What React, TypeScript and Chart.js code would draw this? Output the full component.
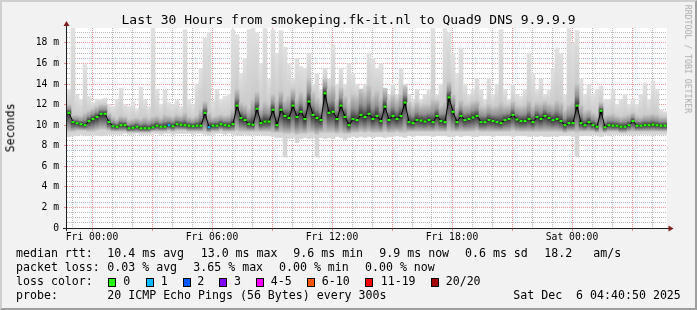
import React, { useEffect, useRef } from 'react';
import { Chart, registerables } from 'chart.js';

Chart.register(...registerables);

const FONT = '"DejaVu Sans Mono", "Liberation Mono", monospace';

// 150 buckets of 12 minutes, Thu 22:45 -> Sat 04:45 (values in ms)
const medianRtt = [
  11.2, 10.3, 10.2, 10.1, 10.0, 10.4, 10.6, 10.8, 11.1, 11.1,
  10.3, 9.9, 9.85, 10.0, 10.0, 9.7, 9.75, 9.85, 9.7, 9.7,
  9.7, 9.8, 9.95, 9.85, 9.85, 10.0, 9.9, 10.1, 10.05, 10.0,
  9.95, 9.9, 9.95, 9.95, 11.2, 9.8, 9.95, 9.95, 10.1, 10.0,
  9.95, 10.1, 11.9, 10.7, 10.5, 10.1, 10.05, 11.6, 10.2, 10.35,
  10.35, 11.5, 10.0, 11.5, 10.9, 10.7, 11.9, 10.8, 11.3, 10.6,
  12.3, 11.0, 10.7, 10.5, 13.1, 11.2, 11.3, 10.6, 11.9, 10.8,
  10.0, 10.6, 10.5, 11.0, 10.8, 11.1, 10.6, 10.9, 10.4, 11.8,
  10.5, 10.9, 10.6, 10.9, 12.2, 10.3, 10.2, 10.5, 10.45, 10.35,
  10.5, 10.3, 10.9, 10.4, 10.3, 12.7, 11.3, 10.3, 10.9, 10.5,
  10.6, 10.75, 10.9, 10.3, 10.3, 10.5, 10.4, 10.3, 10.2, 10.5,
  10.6, 11.0, 10.55, 10.4, 10.4, 10.6, 10.3, 10.8, 10.6, 10.9,
  10.7, 10.5, 10.6, 10.4, 10.0, 10.2, 10.2, 11.9, 10.2, 10.0,
  10.3, 10.0, 9.85, 11.4, 9.8, 10.0, 9.95, 9.95, 9.85, 9.85,
  10.0, 10.4, 9.95, 9.95, 10.0, 10.0, 10.05, 10.0, 9.95, 9.95,
];

const smokeMax = [
  13.5, 19.4, 13.0, 12.5, 15.9, 12.8, 12.2, 12.5, 12.5, 12.6,
  12.0, 11.8, 12.5, 13.6, 12.0, 11.8, 12.3, 11.6, 13.7, 12.5,
  11.8, 19.4, 13.5, 12.0, 13.4, 12.2, 12.0, 12.4, 11.8, 19.3,
  12.5, 12.0, 14.0, 15.5, 18.5, 19.0, 12.3, 13.5, 12.5, 12.8,
  13.0, 19.3, 18.8, 15.0, 16.5, 19.3, 19.4, 19.0, 16.0, 19.4,
  14.5, 19.3, 17.0, 19.2, 17.6, 16.0, 14.5, 16.5, 15.7, 15.5,
  17.0, 14.0, 15.0, 13.5, 15.5, 14.5, 17.8, 14.0, 15.5, 14.0,
  16.0, 15.0, 14.0, 13.5, 14.0, 17.0, 16.5, 15.5, 16.0, 13.5,
  13.0, 14.0, 13.0, 15.5, 14.0, 13.0, 12.5, 13.5, 12.5, 13.0,
  13.5, 19.4, 13.0, 14.0, 19.4, 19.0, 17.0, 15.0, 17.5, 14.0,
  13.0, 13.5, 14.5, 13.5, 12.5, 14.5, 13.0, 14.0, 19.3, 13.5,
  12.5, 14.0, 13.0, 12.8, 13.5, 17.0, 15.0, 13.5, 14.5, 13.0,
  13.5, 15.5, 17.5, 17.0, 13.0, 19.4, 18.0, 19.2, 14.5, 13.0,
  14.0, 13.0, 13.5, 13.8, 12.5, 12.5, 13.5, 12.0, 12.5, 13.0,
  12.0, 12.5, 12.0, 13.0, 14.1, 12.5, 14.3, 13.5, 11.5, 11.3,
];

const smokeUpper = [
  12.0, 11.0, 11.0, 10.9, 11.2, 11.4, 11.6, 11.8, 12.0, 12.0,
  11.2, 10.8, 10.6, 10.9, 10.8, 10.5, 10.6, 10.7, 10.6, 10.8,
  10.6, 10.8, 10.9, 10.7, 11.0, 10.9, 10.8, 11.0, 10.9, 11.2,
  10.8, 10.7, 10.9, 11.5, 12.3, 11.2, 10.8, 10.9, 11.0, 10.9,
  11.0, 11.5, 13.5, 12.2, 12.0, 11.6, 12.5, 13.2, 11.8, 12.3,
  12.0, 13.0, 12.5, 13.3, 12.5, 12.8, 13.5, 12.6, 13.2, 12.8,
  14.5, 13.2, 12.6, 12.2, 14.5, 13.5, 13.8, 12.5, 13.6, 12.8,
  12.2, 13.0, 12.8, 13.5, 13.2, 13.8, 12.9, 13.3, 12.7, 13.6,
  12.4, 12.9, 12.5, 13.0, 13.8, 12.2, 11.8, 12.2, 11.9, 12.0,
  12.0, 12.5, 12.4, 11.9, 12.2, 14.2, 13.0, 11.8, 12.4, 12.0,
  12.0, 12.3, 12.4, 11.8, 11.7, 12.0, 11.8, 11.9, 12.2, 11.9,
  11.9, 12.3, 11.9, 11.8, 11.9, 12.4, 11.9, 12.2, 12.1, 12.3,
  12.1, 12.0, 12.4, 12.2, 11.5, 12.0, 12.2, 14.0, 12.0, 11.4,
  11.5, 11.2, 11.0, 12.2, 10.9, 11.0, 11.1, 10.9, 10.8, 10.9,
  11.0, 11.2, 10.9, 10.8, 11.0, 11.0, 11.1, 11.0, 10.8, 10.8,
];

const smokeLower = [
  9.4, 9.4, 9.5, 9.5, 9.5, 9.4, 9.4, 9.5, 9.6, 9.6,
  9.5, 9.4, 9.4, 9.4, 9.4, 9.3, 9.3, 9.3, 9.3, 9.3,
  9.3, 9.4, 9.4, 9.4, 9.4, 9.5, 9.4, 9.5, 9.5, 9.5,
  9.4, 9.4, 9.4, 9.4, 9.4, 9.3, 9.4, 9.4, 9.5, 9.4,
  9.4, 9.4, 9.5, 9.4, 9.4, 9.4, 9.4, 9.4, 9.4, 9.4,
  9.4, 9.3, 9.3, 9.3, 9.2, 9.2, 9.3, 9.1, 9.2, 9.2,
  9.3, 9.3, 9.1, 9.3, 9.3, 9.3, 9.3, 9.2, 9.3, 9.2,
  9.2, 9.3, 9.3, 9.4, 9.3, 9.4, 9.3, 9.3, 9.3, 9.4,
  9.3, 9.3, 9.4, 9.3, 9.3, 9.4, 9.4, 9.4, 9.4, 9.4,
  9.4, 9.4, 9.4, 9.4, 9.4, 9.5, 9.4, 9.4, 9.4, 9.4,
  9.4, 9.4, 9.5, 9.4, 9.4, 9.4, 9.4, 9.4, 9.4, 9.4,
  9.4, 9.5, 9.4, 9.4, 9.4, 9.4, 9.4, 9.4, 9.4, 9.4,
  9.4, 9.4, 9.4, 9.4, 9.3, 9.4, 9.4, 9.3, 9.4, 9.4,
  9.4, 9.4, 9.3, 9.4, 9.3, 9.4, 9.4, 9.4, 9.3, 9.3,
  9.4, 9.4, 9.4, 9.4, 9.4, 9.4, 9.4, 9.4, 9.4, 9.4,
];

const smokeMin = [
  8.9, 9.0, 9.0, 9.1, 9.0, 9.0, 9.1, 9.0, 9.0, 9.0,
  9.1, 9.1, 9.1, 9.1, 9.2, 9.1, 9.1, 9.2, 9.1, 9.1,
  9.1, 9.2, 9.2, 9.1, 9.2, 9.2, 9.1, 9.2, 9.2, 9.2,
  9.2, 9.1, 9.2, 9.2, 9.1, 9.0, 9.1, 9.2, 9.2, 9.1,
  9.2, 9.1, 9.0, 9.0, 9.1, 9.0, 9.1, 9.0, 9.1, 9.0,
  9.0, 8.9, 8.8, 8.8, 6.9, 8.7, 8.8, 8.3, 8.7, 8.8,
  8.7, 8.8, 6.9, 8.8, 8.7, 8.8, 8.7, 8.9, 8.8, 8.6,
  8.8, 8.9, 8.8, 8.9, 8.8, 8.9, 8.8, 8.9, 8.9, 8.8,
  8.9, 8.9, 9.0, 8.9, 8.8, 9.0, 8.9, 9.0, 9.0, 9.0,
  9.0, 8.9, 9.0, 9.0, 9.0, 8.9, 8.9, 9.0, 8.9, 9.0,
  9.0, 8.9, 8.9, 9.0, 9.0, 9.0, 8.9, 9.0, 9.0, 9.0,
  9.0, 8.9, 9.0, 9.0, 9.0, 8.9, 9.0, 8.9, 9.0, 8.9,
  8.9, 9.0, 8.9, 9.0, 9.0, 9.0, 8.9, 6.9, 9.0, 9.0,
  9.0, 9.1, 9.0, 8.9, 9.1, 9.0, 9.1, 9.1, 9.1, 9.1,
  9.1, 9.0, 9.1, 9.1, 9.1, 9.1, 9.0, 9.1, 9.1, 9.1,
];

// buckets where 1 of 20 pings was lost
const lossOneIdx = [25, 35];

const sampleLabels = medianRtt.map((_, i) => `s${i}`);

const yMax = 19.45;
const xStartHour = -1.25; // relative to Fri 00:00
const xEndHour = 28.75;
const xLabelHours = [0, 6, 12, 18, 24];
const xTickLabels = ['Fri 00:00', 'Fri 06:00', 'Fri 12:00', 'Fri 18:00', 'Sat 00:00'];
const gridHours = Array.from({ length: 30 }, (_, k) => k - 1);
const yGridValues = Array.from({ length: 39 }, (_, k) => k * 0.5);

const lossColors = ['#26ff00', '#00b8ff', '#0059ff', '#7e00ff', '#ff00ff', '#ff5500', '#ff0000', '#a00000'];
const lossLabels = ['0', '1', '2', '3', '4-5', '6-10', '11-19', '20/20'];

const rttStats = ['10.4 ms avg', '13.0 ms max', '9.6 ms min', '9.9 ms now', '0.6 ms sd', '18.2', 'am/s'];
const lossStats = ['0.03 % avg', '3.65 % max', '0.00 % min', '0.00 % now'];

const MGRID = 'rgba(222,79,79,0.6)';
const GRID = 'rgba(143,143,143,0.6)';

const framePlugin = {
  id: 'rrdframe',
  beforeDraw(chart: any) {
    const { ctx, chartArea: a } = chart;
    ctx.save();
    ctx.fillStyle = '#ffffff';
    ctx.fillRect(a.left, a.top, a.right - a.left, a.bottom - a.top);
    ctx.restore();
  },
  afterDraw(chart: any) {
    const { ctx, chartArea: a } = chart;
    ctx.save();
    ctx.strokeStyle = '#1f1f1f';
    ctx.lineWidth = 1;
    ctx.beginPath();
    ctx.moveTo(a.left - 0.5, a.bottom + 3);
    ctx.lineTo(a.left - 0.5, a.top - 3);
    ctx.moveTo(a.left - 4, a.bottom + 0.5);
    ctx.lineTo(a.right + 2, a.bottom + 0.5);
    ctx.stroke();
    ctx.fillStyle = '#801f1f';
    ctx.beginPath();
    ctx.moveTo(a.left - 0.5, a.top - 7);
    ctx.lineTo(a.left - 3.5, a.top - 2);
    ctx.lineTo(a.left + 2.5, a.top - 2);
    ctx.closePath();
    ctx.fill();
    ctx.beginPath();
    ctx.moveTo(a.right + 6.5, a.bottom + 0.5);
    ctx.lineTo(a.right + 1.5, a.bottom - 2.5);
    ctx.lineTo(a.right + 1.5, a.bottom + 3.5);
    ctx.closePath();
    ctx.fill();
    ctx.restore();
  },
};

function outerSmoke(c: any) {
  const ys = c.chart && c.chart.scales ? c.chart.scales.y : null;
  if (!ys || c.type !== 'data' || c.dataIndex == null) return '#dadada';
  const i = c.dataIndex;
  const yT = ys.getPixelForValue(smokeMax[i]);
  const yB = ys.getPixelForValue(smokeMin[i]);
  const yU = ys.getPixelForValue(smokeUpper[i]);
  if (!isFinite(yT) || !isFinite(yB) || yB - yT < 2) return '#dadada';
  const g = c.chart.ctx.createLinearGradient(0, yT, 0, yB);
  const f = Math.min(0.99, Math.max(0.01, (yU - yT) / (yB - yT)));
  g.addColorStop(0, '#e0e0e0');
  g.addColorStop(f, '#cbcbcb');
  g.addColorStop(1, '#d6d6d6');
  return g;
}

function innerSmoke(c: any) {
  const ys = c.chart && c.chart.scales ? c.chart.scales.y : null;
  if (!ys || c.type !== 'data' || c.dataIndex == null) return '#b0b0b0';
  const i = c.dataIndex;
  const yT = ys.getPixelForValue(smokeUpper[i]);
  const yB = ys.getPixelForValue(smokeLower[i]);
  const yM = ys.getPixelForValue(medianRtt[i]);
  if (!isFinite(yT) || !isFinite(yB) || yB - yT < 1) return '#b0b0b0';
  const g = c.chart.ctx.createLinearGradient(0, yT, 0, yB);
  const f = Math.min(0.97, Math.max(0.03, (yM - yT) / (yB - yT)));
  g.addColorStop(0, '#c6c6c6');
  g.addColorStop(f * 0.55, '#939393');
  g.addColorStop(f, '#303030');
  g.addColorStop(f + (1 - f) * 0.5, '#777777');
  g.addColorStop(1, '#c4c4c4');
  return g;
}

function T({ x, b, s = 11.6, color = '#000', children }: any) {
  return (
    <span
      style={{
        position: 'absolute',
        left: x,
        top: b - 0.846 * s,
        fontSize: s,
        lineHeight: `${s}px`,
        fontFamily: FONT,
        whiteSpace: 'pre',
        color,
      }}
    >
      {children}
    </span>
  );
}

export default function App() {
  const ref = useRef<HTMLCanvasElement>(null);

  useEffect(() => {
    if (!ref.current) return;
    const chart = new Chart(ref.current, {
      type: 'bar',
      data: {
        labels: sampleLabels,
        datasets: [
          {
            type: 'bar',
            label: 'smoke outer',
            data: smokeMax.map((v, i) => [smokeMin[i], v]),
            backgroundColor: outerSmoke,
            barPercentage: 1,
            categoryPercentage: 1,
            grouped: false,
            order: 5,
          } as any,
          {
            type: 'bar',
            label: 'smoke inner',
            data: smokeUpper.map((v, i) => [smokeLower[i], v]),
            backgroundColor: innerSmoke,
            barPercentage: 1,
            categoryPercentage: 1,
            grouped: false,
            order: 4,
          } as any,
          {
            type: 'line',
            label: 'median',
            data: medianRtt,
            borderColor: '#000000',
            borderWidth: 1,
            pointRadius: 0,
            order: 2,
          } as any,
          {
            type: 'bar',
            label: 'median rtt',
            data: medianRtt.map((v) => [v - 0.1, v + 0.1]),
            backgroundColor: (c: any) => (lossOneIdx.includes(c.dataIndex) ? lossColors[1] : lossColors[0]),
            barPercentage: 0.75,
            categoryPercentage: 1,
            grouped: false,
            order: 1,
          } as any,
        ],
      },
      options: {
        responsive: false,
        animation: false,
        events: [],
        layout: { padding: { top: 28, right: 30, bottom: 0, left: 0 } },
        plugins: {
          legend: { display: false },
          tooltip: { enabled: false },
          title: { display: false },
        },
        scales: {
          x: { type: 'category', display: false, offset: true, grid: { display: false } },
          xt: {
            type: 'linear',
            position: 'bottom',
            min: xStartHour,
            max: xEndHour,
            offset: false,
            z: 1,
            afterBuildTicks: (s: any) => {
              s.ticks = gridHours.map((v) => ({ value: v }));
            },
            afterFit: (s: any) => {
              s.height = 82;
            },
            grid: {
              offset: false,
              color: (c: any) => (c.tick && c.tick.value % 3 === 0 ? MGRID : GRID),
              lineWidth: 1,
              drawTicks: true,
              tickLength: 3,
              tickColor: (c: any) => (c.tick && c.tick.value % 3 === 0 ? MGRID : 'rgba(0,0,0,0)'),
            },
            border: { display: false, dash: [1, 1] },
            ticks: {
              autoSkip: false,
              maxRotation: 0,
              minRotation: 0,
              padding: 1,
              color: '#000',
              font: { family: FONT, size: 9.7 },
              callback: (v: any) => {
                const k = xLabelHours.indexOf(Number(v));
                return k >= 0 ? xTickLabels[k] : '';
              },
            },
          },
          y: {
            type: 'linear',
            min: 0,
            max: yMax,
            offset: false,
            z: 1,
            afterBuildTicks: (s: any) => {
              s.ticks = yGridValues.map((v) => ({ value: v }));
            },
            afterFit: (s: any) => {
              s.width = 67;
            },
            grid: {
              offset: false,
              color: (c: any) => (c.tick && c.tick.value % 2 === 0 ? MGRID : GRID),
              lineWidth: 1,
              drawTicks: true,
              tickLength: 3,
              tickColor: (c: any) => (c.tick && c.tick.value % 2 === 0 ? MGRID : 'rgba(0,0,0,0)'),
            },
            border: { display: false, dash: [1, 1] },
            ticks: {
              autoSkip: false,
              padding: 5,
              color: '#000',
              font: { family: FONT, size: 9.7 },
              callback: (v: any) => {
                const n = Number(v);
                if (n % 2 !== 0) return '';
                return n === 0 ? '0' : `${n} m`;
              },
            },
          },
        },
      } as any,
      plugins: [framePlugin],
    });
    return () => chart.destroy();
  }, []);

  const boxX = [108.3, 145.7, 182.7, 219.3, 256, 307.3, 365.3, 430.7];
  const boxLabelX = [123.3, 160.7, 197.3, 234, 270.7, 321.7, 380.7, 445.7];
  const rttX = [107.3, 200.7, 293.3, 379.3, 465, 544.3, 593.3];
  const lossX = [107.3, 193.3, 279, 365];

  return (
    <div
      style={{
        position: 'absolute',
        left: 0,
        top: 0,
        width: 697,
        height: 310,
        background: '#f2f2f2',
        overflow: 'hidden',
        fontFamily: FONT,
      }}
    >
      <canvas ref={ref} width={697} height={310} style={{ position: 'absolute', left: 0, top: 0 }} />

      <div
        style={{
          position: 'absolute',
          left: 0,
          width: 697,
          top: 24 - 0.846 * 13,
          fontSize: 13,
          lineHeight: '13px',
          textAlign: 'center',
          fontFamily: FONT,
          whiteSpace: 'pre',
        }}
      >
        Last 30 Hours from smokeping.fk-it.nl to Quad9 DNS 9.9.9.9
      </div>

      <div
        style={{
          position: 'absolute',
          left: 10.5 - 50,
          width: 100,
          top: 127.5 - 5.8,
          fontSize: 11.6,
          lineHeight: '11.6px',
          textAlign: 'center',
          fontFamily: FONT,
          transform: 'rotate(-90deg)',
        }}
      >
        Seconds
      </div>

      <div
        style={{
          position: 'absolute',
          left: 688 - 70,
          width: 140,
          top: 59 - 4.1,
          fontSize: 8.2,
          lineHeight: '8.2px',
          textAlign: 'center',
          fontFamily: FONT,
          color: '#ababab',
          whiteSpace: 'pre',
          transform: 'rotate(90deg)',
        }}
      >
        RRDTOOL / TOBI OETIKER
      </div>

      <T x={16} b={258.3}>median rtt:</T>
      {rttStats.map((t, i) => (
        <T key={`r${i}`} x={rttX[i]} b={258.3}>
          {t}
        </T>
      ))}

      <T x={16} b={272.1}>packet loss:</T>
      {lossStats.map((t, i) => (
        <T key={`l${i}`} x={lossX[i]} b={272.1}>
          {t}
        </T>
      ))}

      <T x={16} b={285.9}>loss color:</T>
      {lossLabels.map((t, i) => (
        <React.Fragment key={`c${i}`}>
          <div
            style={{
              position: 'absolute',
              left: boxX[i],
              top: 277.7,
              width: 8,
              height: 9,
              boxSizing: 'border-box',
              border: '1px solid #000',
              background: lossColors[i],
            }}
          />
          <T x={boxLabelX[i]} b={285.9}>
            {t}
          </T>
        </React.Fragment>
      ))}

      <T x={16} b={299.7}>probe:</T>
      <T x={107.3} b={299.7}>20 ICMP Echo Pings (56 Bytes) every 300s</T>
      <T x={513.3} b={299.7}>Sat Dec  6 04:40:50 2025</T>

      <div
        style={{
          position: 'absolute',
          left: 0,
          top: 0,
          width: 697,
          height: 310,
          boxSizing: 'border-box',
          borderTop: '2px solid #cfcfcf',
          borderLeft: '2px solid #cfcfcf',
          borderRight: '2px solid #9e9e9e',
          borderBottom: '2px solid #9e9e9e',
          pointerEvents: 'none',
        }}
      />
    </div>
  );
}
